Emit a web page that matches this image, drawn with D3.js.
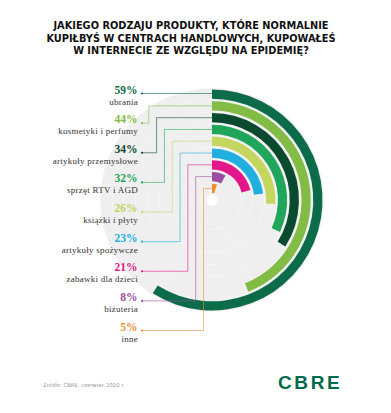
<!DOCTYPE html>
<html>
<head>
<meta charset="utf-8">
<script src="https://cdn.jsdelivr.net/npm/d3@7"></script>
<style>
  html, body { margin: 0; padding: 0; background: #fff; }
  #chart { width: 391px; height: 413px; }
  .title { font-family: "DejaVu Sans", sans-serif; font-weight: bold; font-size: 9.8px; fill: #111; }
  .pct { font-family: "Liberation Serif", serif; font-weight: bold; font-size: 11.5px; }
  .lbl { font-family: "Liberation Serif", serif; font-size: 9px; fill: #333; letter-spacing: 0.25px; }
  .src { font-family: "DejaVu Sans", sans-serif; font-size: 5.3px; fill: #999; }
  .logo { font-family: "Liberation Sans", sans-serif; font-weight: bold; font-size: 19px; fill: #006a4d; letter-spacing: 2.6px; }
</style>
</head>
<body>
<div id="chart"></div>
<script>
// ------------------------------------------------------------
// Radial bar chart: online purchases instead of shopping centres
// ------------------------------------------------------------

// --- Data ---
const categories = ['ubrania', 'kosmetyki i perfumy', 'artykuły przemysłowe', 'sprzęt RTV i AGD',
  'książki i płyty', 'artykuły spożywcze', 'zabawki dla dzieci', 'biżuteria', 'inne'];
const values = [59, 44, 34, 32, 26, 23, 21, 8, 5];
const colors = ['#0c6b48', '#82bc44', '#0a4a2f', '#1fa65a', '#c4d65e', '#21afe0', '#e4168b', '#9b4e9f', '#f18d2f'];
const titleLines = ['JAKIEGO RODZAJU PRODUKTY, KTÓRE NORMALNIE',
  'KUPIŁBYŚ W CENTRACH HANDLOWYCH, KUPOWAŁEŚ',
  'W INTERNECIE ZE WZGLĘDU NA EPIDEMIĘ?'];
const sourceText = 'Źródło: CBRE, czerwiec 2020 r.';

(function(){
  const width = 391, height = 413;
  const cx = 212, cy = 200;   // centre of the rings

  const svg = d3.select('#chart').append('svg')
    .attr('width', width).attr('height', height)
    .attr('viewBox', [0, 0, width, height]);

  // title, three centred lines
  svg.append('g').selectAll('text')
    .data(titleLines)
    .join('text')
    .attr('class', 'title')
    .attr('x', 191)
    .attr('y', (d, i) => 29 + i * 12.6)
    .attr('text-anchor', 'middle')
    .text(d => d);

  // one ring per category, outermost first
  const ring = d3.scaleBand()
    .domain(categories)
    .range([110.5, 7])
    .paddingInner(0.22);
  // 100% = one full turn, starting at 12 o'clock
  const angle = d3.scaleLinear().domain([0, 100]).range([0, 2 * Math.PI]);

  const g = svg.append('g').attr('transform', `translate(${cx},${cy})`);

  // grey tracks behind the bars
  const track = d3.arc()
    .innerRadius(d => ring(d) + ring.bandwidth() + 1.2)
    .outerRadius(d => ring(d) - 1.2)
    .startAngle(0).endAngle(2 * Math.PI);
  g.append('g').selectAll('path')
    .data(categories)
    .join('path')
    .attr('d', track)
    .attr('fill', '#efefef');

  // coloured bars
  const bar = d3.arc()
    .innerRadius((d, i) => ring(categories[i]) + ring.bandwidth())
    .outerRadius((d, i) => ring(categories[i]))
    .startAngle(0)
    .endAngle(d => angle(d));
  g.append('g').selectAll('path')
    .data(values)
    .join('path')
    .attr('d', (d, i) => bar(d, i))
    .attr('fill', (d, i) => colors[i]);

  // --- Labels on the left, with elbow leader lines to each ring ---
  const rowY = d3.scalePoint().domain(categories).range([93.5, 330.5]);
  const elbowX = d3.scalePoint().domain(categories).range([141, 203.5]);
  const dotX = 142;
  const ringY = c => cy - (ring(c) + ring.bandwidth() / 2);

  const rows = svg.append('g').selectAll('g')
    .data(categories)
    .join('g');

  rows.append('path')
    .attr('fill', 'none')
    .attr('stroke', (c, i) => colors[i])
    .attr('stroke-opacity', 0.65)
    .attr('stroke-width', 0.9)
    .attr('d', (c, i) => {
      const y0 = rowY(c), y1 = ringY(c);
      if (i === 0) return d3.line()([[dotX, y0], [cx, y0]]);
      const ex = elbowX(c);
      return d3.line()([[dotX, y0], [ex, y0], [ex, y1], [cx, y1]]);
    });

  rows.append('circle')
    .attr('cx', dotX).attr('cy', c => rowY(c))
    .attr('r', 1.1)
    .attr('fill', (c, i) => colors[i]);

  rows.append('text')
    .attr('class', 'pct')
    .attr('x', 137.5)
    .attr('y', c => rowY(c))
    .attr('text-anchor', 'end')
    .attr('fill', (c, i) => colors[i])
    .text((c, i) => values[i] + '%');

  rows.append('text')
    .attr('class', 'lbl')
    .attr('x', 138)
    .attr('y', c => rowY(c) + 11)
    .attr('text-anchor', 'end')
    .text(c => c);

  // --- Footer ---
  svg.append('text').attr('class', 'src')
    .attr('x', 43).attr('y', 387)
    .text(sourceText);
  svg.append('text').attr('class', 'logo')
    .attr('x', 278).attr('y', 389)
    .text('CBRE');
})();
</script>
</body>
</html>
